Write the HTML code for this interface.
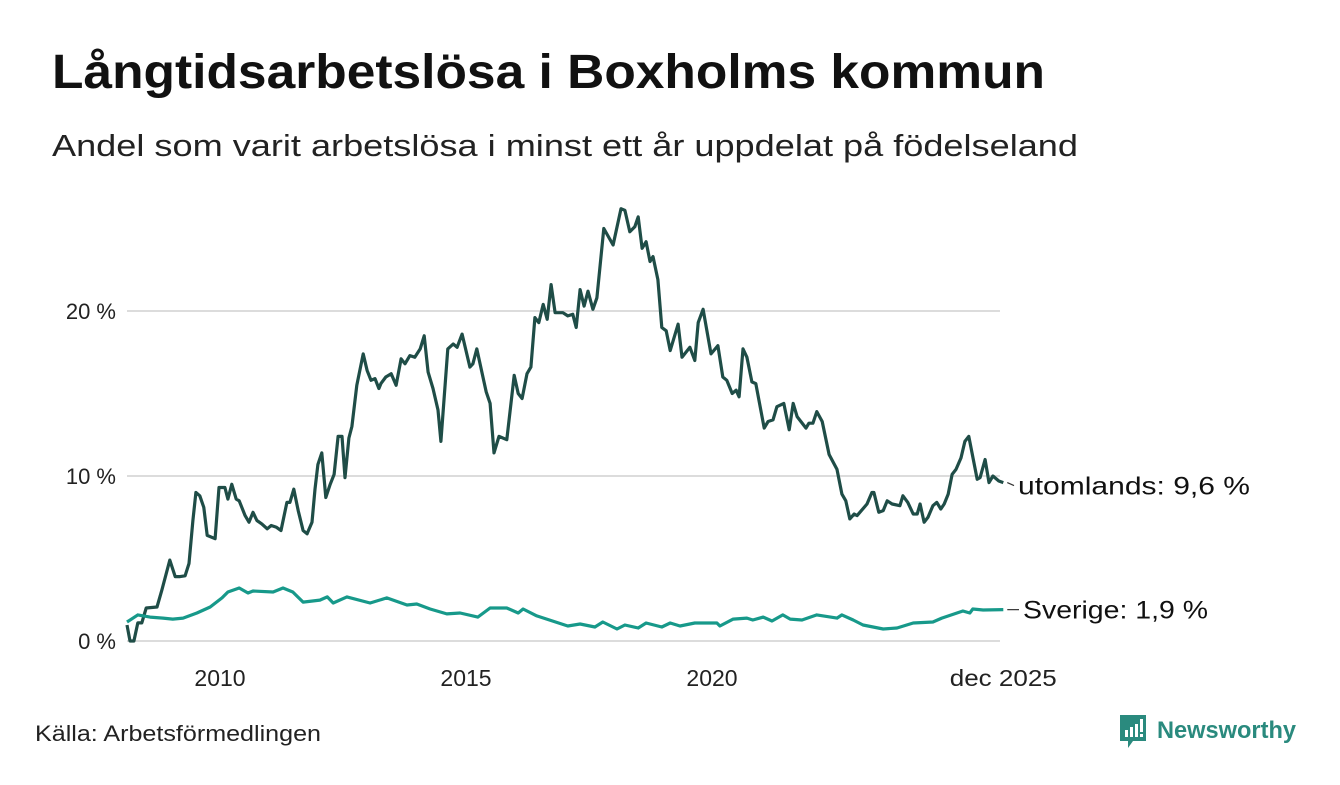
<!DOCTYPE html>
<html><head><meta charset="utf-8"><style>
body{margin:0;background:#fff;width:1340px;height:780px;overflow:hidden;font-family:"Liberation Sans","DejaVu Sans",sans-serif;}
</style></head><body>
<svg width="1340" height="780" viewBox="0 0 1340 780" xmlns="http://www.w3.org/2000/svg">
<text x="52" y="88" font-size="48" font-weight="bold" fill="#111" textLength="993" lengthAdjust="spacingAndGlyphs">Långtidsarbetslösa i Boxholms kommun</text>
<text x="52" y="156" font-size="31" fill="#222" textLength="1026" lengthAdjust="spacingAndGlyphs">Andel som varit arbetslösa i minst ett år uppdelat på födelseland</text>
<g id="grid"></g>
<g id="yticks"></g>
<g id="xticks"></g>
<g id="lines"></g>
<g id="labels"></g>
<text x="35" y="741" font-size="22" fill="#222" textLength="286" lengthAdjust="spacingAndGlyphs">Källa: Arbetsförmedlingen</text>
<g>
<path d="M1120 715 h26 v26 h-13 l-5 7 v-7 h-8 z" fill="#2a8a7e"/>
<rect x="1125" y="730" width="3" height="7" fill="#fff"/><rect x="1130" y="727" width="3" height="10" fill="#fff"/><rect x="1135" y="724" width="3" height="13" fill="#fff"/><rect x="1140" y="719" width="3" height="13" fill="#fff"/><rect x="1140" y="734" width="3" height="3" fill="#fff"/>
<text x="1157" y="738" font-size="24" font-weight="bold" fill="#2a8a7e" textLength="139" lengthAdjust="spacingAndGlyphs">Newsworthy</text>
</g>
</svg>
<script>
const yTicks=[0,10,20];
const yTickLabels=["0 %","10 %","20 %"];
const xTicks=[2010,2015,2020,2025.92];
const xTickLabels=["2010","2015","2020","dec 2025"];
const utDates=[2008.11,2008.17,2008.25,2008.33,2008.41,2008.50,2008.72,2008.82,2008.98,2009.09,2009.19,2009.29,2009.37,2009.45,2009.51,2009.59,2009.67,2009.74,2009.90,2009.98,2010.10,2010.16,2010.24,2010.33,2010.39,2010.51,2010.59,2010.67,2010.75,2010.85,2010.96,2011.04,2011.14,2011.24,2011.36,2011.42,2011.50,2011.59,2011.69,2011.77,2011.87,2011.93,2011.99,2012.07,2012.15,2012.24,2012.32,2012.40,2012.48,2012.54,2012.62,2012.68,2012.78,2012.91,2012.99,2013.07,2013.15,2013.23,2013.27,2013.37,2013.48,2013.58,2013.68,2013.76,2013.86,2013.96,2014.07,2014.15,2014.23,2014.33,2014.43,2014.49,2014.63,2014.74,2014.82,2014.92,2015.08,2015.14,2015.22,2015.41,2015.49,2015.57,2015.67,2015.83,2015.98,2016.06,2016.14,2016.24,2016.32,2016.40,2016.48,2016.57,2016.65,2016.73,2016.81,2016.97,2017.07,2017.17,2017.24,2017.32,2017.40,2017.48,2017.58,2017.66,2017.80,2017.99,2018.15,2018.23,2018.33,2018.43,2018.50,2018.58,2018.66,2018.74,2018.80,2018.90,2018.98,2019.07,2019.15,2019.31,2019.39,2019.55,2019.65,2019.72,2019.82,2019.98,2020.12,2020.22,2020.30,2020.41,2020.49,2020.55,2020.63,2020.71,2020.81,2020.89,2021.06,2021.14,2021.24,2021.32,2021.46,2021.57,2021.65,2021.73,2021.91,2021.97,2022.05,2022.13,2022.24,2022.38,2022.54,2022.64,2022.72,2022.80,2022.89,2022.95,2023.15,2023.25,2023.29,2023.39,2023.48,2023.56,2023.66,2023.82,2023.88,2023.98,2024.09,2024.17,2024.23,2024.31,2024.39,2024.49,2024.57,2024.65,2024.72,2024.80,2024.88,2024.96,2025.06,2025.14,2025.22,2025.39,2025.45,2025.55,2025.63,2025.71,2025.83,2025.92];
const utValues=[0.97,0,0,1.1,1.1,2.0,2.06,3.1,4.9,3.9,3.9,3.95,4.7,7.3,9.0,8.8,8.1,6.4,6.2,9.3,9.3,8.6,9.5,8.6,8.5,7.6,7.2,7.8,7.3,7.1,6.8,7.0,6.9,6.7,8.4,8.4,9.2,7.9,6.7,6.5,7.2,9.2,10.7,11.4,8.7,9.5,10.1,12.4,12.4,9.9,12.3,13.0,15.5,17.4,16.4,15.8,15.9,15.3,15.6,16.0,16.2,15.5,17.1,16.8,17.3,17.2,17.7,18.5,16.3,15.3,14.0,12.1,17.7,18.0,17.8,18.6,16.6,16.8,17.7,15.1,14.4,11.4,12.4,12.2,16.1,15.0,14.7,16.2,16.6,19.6,19.3,20.4,19.5,21.6,19.9,19.9,19.7,19.8,19.0,21.3,20.3,21.2,20.1,20.8,25.0,24.0,26.2,26.1,24.8,25.1,25.7,23.8,24.2,23.0,23.3,21.9,19.0,18.8,17.6,19.2,17.2,17.8,17.0,19.3,20.1,17.4,17.9,16.0,15.8,15.0,15.2,14.8,17.7,17.2,15.7,15.6,12.9,13.3,13.4,14.2,14.4,12.8,14.4,13.6,12.9,13.2,13.2,13.9,13.3,11.3,10.4,8.9,8.5,7.4,7.7,7.6,8.3,9.0,9.0,7.8,7.9,8.5,8.3,8.2,8.8,8.4,7.7,7.7,8.3,7.2,7.5,8.2,8.4,8.0,8.3,8.9,10.1,10.4,11.1,12.1,12.4,9.8,9.9,11.0,9.6,10.0,9.7,9.6];
const svDates=[2008.11,2008.33,2008.58,2008.84,2009.04,2009.25,2009.53,2009.80,2010.04,2010.16,2010.39,2010.57,2010.67,2011.08,2011.28,2011.48,2011.69,2012.03,2012.18,2012.30,2012.58,2013.05,2013.39,2013.80,2014.00,2014.27,2014.61,2014.88,2015.24,2015.49,2015.83,2016.06,2016.16,2016.44,2017.07,2017.32,2017.62,2017.78,2018.07,2018.23,2018.50,2018.66,2018.98,2019.15,2019.35,2019.65,2020.10,2020.16,2020.43,2020.71,2020.83,2021.04,2021.22,2021.44,2021.59,2021.83,2022.13,2022.54,2022.64,2022.87,2023.07,2023.48,2023.76,2024.09,2024.49,2024.67,2025.10,2025.24,2025.30,2025.51,2025.92];
const svValues=[1.15,1.58,1.45,1.39,1.33,1.39,1.70,2.06,2.61,2.97,3.21,2.91,3.03,2.97,3.21,2.97,2.36,2.48,2.67,2.30,2.67,2.30,2.61,2.18,2.24,1.94,1.64,1.70,1.45,2.0,2.0,1.70,1.94,1.52,0.91,1.03,0.85,1.15,0.73,0.97,0.79,1.09,0.85,1.09,0.91,1.09,1.09,0.91,1.33,1.39,1.27,1.45,1.21,1.58,1.33,1.27,1.58,1.39,1.58,1.27,0.97,0.73,0.79,1.09,1.15,1.39,1.82,1.70,1.94,1.88,1.9];
const seriesNames=["utomlands","Sverige"];
const lastLabels=["utomlands: 9,6 %","Sverige: 1,9 %"];

const NS="http://www.w3.org/2000/svg";
const xS=d=>220+(d-2010)*49.2;
const yS=v=>641-v*16.5;
function mk(tag,attrs,parent){const e=document.createElementNS(NS,tag);for(const k in attrs)e.setAttribute(k,attrs[k]);parent.appendChild(e);return e;}
const grid=document.getElementById('grid'),yt=document.getElementById('yticks'),xt=document.getElementById('xticks'),lines=document.getElementById('lines'),labels=document.getElementById('labels');
yTicks.forEach((t,i)=>{
  const l=mk('line',{x1:127,x2:1000,y1:yS(t),y2:yS(t),stroke:'#dcdcdc','stroke-width':2},grid);
  
  
  const tx=mk('text',{x:116,y:yS(t)+8,'text-anchor':'end','font-size':22,fill:'#222'},yt);
  tx.textContent=yTickLabels[i];
  
  
});
xTicks.forEach((t,i)=>{
  const attrs={x:xS(t),y:686,'text-anchor':'middle','font-size':23,fill:'#222'};
  if(i===3){attrs.textLength=107;attrs.lengthAdjust='spacingAndGlyphs';}
  const tx=mk('text',attrs,xt);
  tx.textContent=xTickLabels[i];
  
  
});
const sets=[[utDates,utValues,'#1f4d47',232,1018],[svDates,svValues,'#17998a',185,1023]];
sets.forEach((s,k)=>{
  const pts=s[0].map((d,i)=>xS(d).toFixed(1)+','+yS(s[1][i]).toFixed(1)).join(' ');
  const p=mk('polyline',{points:pts,fill:'none',stroke:s[2],'stroke-width':3.2,'stroke-linejoin':'round'},lines);
  
  
  const lv=s[1][s[1].length-1];
  const ly=yS(lv);
  const off=k===0?(ly+3):ly;
  mk('line',{x1:xS(2025.92)+4,x2:s[4]-4,y1:ly,y2:off,stroke:'#333','stroke-width':1.2},labels);
  const tx=mk('text',{x:s[4],y:off+9,'font-size':25,fill:'#111',textLength:s[3],lengthAdjust:'spacingAndGlyphs'},labels);
  tx.textContent=lastLabels[k];
  
  
});
</script>
</body></html>
